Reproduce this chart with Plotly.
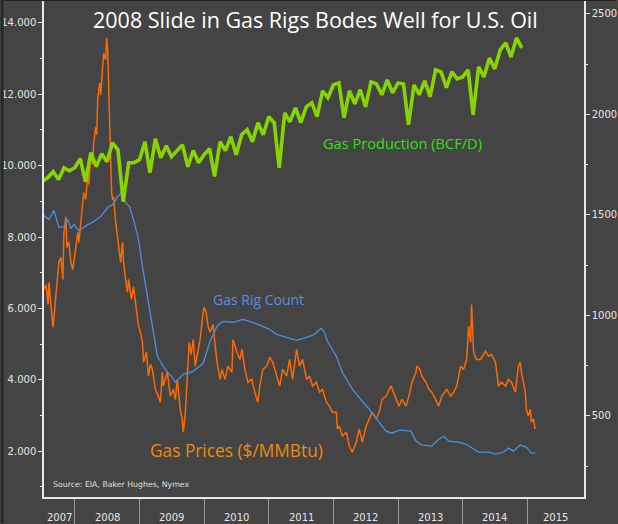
import plotly.graph_objects as go
import pandas as pd

# ---------------- data ----------------
# Henry Hub gas price, $/MMBtu (left axis); time in decimal years
price_t = [2007.523, 2007.554, 2007.585, 2007.600, 2007.631, 2007.662, 2007.677, 2007.708, 2007.738, 2007.754,
           2007.785, 2007.815, 2007.831, 2007.862, 2007.877, 2007.908, 2007.938, 2007.969, 2007.985, 2008.015,
           2008.046, 2008.062, 2008.092, 2008.123, 2008.138, 2008.169, 2008.200, 2008.215, 2008.246, 2008.277,
           2008.292, 2008.323, 2008.338, 2008.354, 2008.385, 2008.400, 2008.431, 2008.446, 2008.477, 2008.492,
           2008.508, 2008.523, 2008.538, 2008.554, 2008.569, 2008.585, 2008.600, 2008.631, 2008.662, 2008.677,
           2008.708, 2008.738, 2008.754, 2008.785, 2008.815, 2008.831, 2008.877, 2008.908, 2008.954, 2008.985,
           2009.015, 2009.046, 2009.062, 2009.108, 2009.138, 2009.169, 2009.200, 2009.246, 2009.292, 2009.323,
           2009.354, 2009.369, 2009.431, 2009.446, 2009.477, 2009.523, 2009.554, 2009.585, 2009.600, 2009.631,
           2009.662, 2009.677, 2009.708, 2009.738, 2009.769, 2009.800, 2009.831, 2009.862, 2009.892, 2009.938,
           2009.985, 2010.000, 2010.031, 2010.062, 2010.092, 2010.138, 2010.169, 2010.200, 2010.246, 2010.277,
           2010.323, 2010.369, 2010.431, 2010.446, 2010.508, 2010.554, 2010.585, 2010.631, 2010.677, 2010.738,
           2010.785, 2010.831, 2010.862, 2010.908, 2010.969, 2011.015, 2011.062, 2011.123, 2011.169, 2011.215,
           2011.277, 2011.323, 2011.369, 2011.431, 2011.477, 2011.523, 2011.585, 2011.631, 2011.677, 2011.738,
           2011.785, 2011.831, 2011.892, 2011.938, 2011.985, 2012.046, 2012.062, 2012.092, 2012.138, 2012.200,
           2012.246, 2012.292, 2012.354, 2012.400, 2012.446, 2012.508, 2012.554, 2012.600, 2012.662, 2012.708,
           2012.754, 2012.815, 2012.892, 2012.938, 2013.015, 2013.062, 2013.123, 2013.169, 2013.215, 2013.277,
           2013.292, 2013.338, 2013.369, 2013.431, 2013.477, 2013.523, 2013.585, 2013.631, 2013.677, 2013.754,
           2013.815, 2013.862, 2013.908, 2013.969, 2014.015, 2014.062, 2014.092, 2014.123, 2014.138, 2014.169,
           2014.215, 2014.277, 2014.354, 2014.400, 2014.446, 2014.508, 2014.554, 2014.600, 2014.662, 2014.708,
           2014.754, 2014.815, 2014.862, 2014.892, 2014.908, 2014.969, 2014.985, 2015.015, 2015.046, 2015.062,
           2015.092, 2015.123]
price_v = [6.53, 6.67, 6.11, 6.73, 6.06, 5.47, 5.75, 6.39, 6.87, 7.31,
           7.43, 6.81, 8.13, 8.57, 7.71, 7.85, 7.29, 7.09, 7.31, 7.79,
           8.13, 7.85, 8.41, 8.77, 9.24, 9.05, 9.80, 9.47, 10.25, 10.03,
           10.64, 11.09, 10.87, 11.85, 12.32, 11.99, 12.77, 13.16, 12.96, 13.58,
           13.24, 12.13, 11.01, 10.17, 9.24, 9.05, 9.13, 8.43, 8.01, 7.79,
           7.29, 7.85, 7.29, 6.81, 6.45, 6.81, 6.25, 6.61, 5.97, 5.50,
           5.33, 5.05, 4.49, 4.77, 4.10, 4.43, 4.29, 3.73, 3.54, 3.37,
           4.21, 3.82, 4.21, 3.93, 3.54, 3.73, 3.45, 4.01, 3.65, 3.17,
           2.89, 2.53, 3.03, 4.01, 5.05, 4.71, 5.13, 4.38, 4.66, 5.13,
           5.89, 6.03, 5.89, 5.50, 5.33, 5.55, 4.99, 4.49, 4.01, 4.29,
           4.01, 4.38, 4.21, 5.13, 4.77, 4.57, 4.85, 4.29, 3.93, 4.01,
           3.65, 3.37, 3.82, 4.29, 4.38, 4.63, 4.49, 4.10, 3.82, 4.29,
           4.10, 4.57, 4.01, 4.85, 4.38, 4.57, 4.01, 4.10, 3.82, 3.93,
           3.65, 3.73, 3.37, 3.26, 3.09, 3.09, 2.62, 2.70, 2.42, 2.53,
           2.14, 1.97, 2.25, 2.62, 2.25, 2.70, 2.90, 3.09, 2.90, 3.09,
           3.45, 3.54, 3.82, 3.59, 3.26, 3.45, 3.26, 3.54, 3.93, 4.21,
           4.38, 4.29, 4.10, 3.93, 3.73, 3.65, 3.45, 3.26, 3.54, 3.73,
           3.54, 3.65, 3.82, 4.38, 4.29, 4.57, 5.50, 5.05, 6.11, 4.77,
           4.57, 4.57, 4.80, 4.66, 4.71, 4.49, 3.82, 3.93, 3.82, 4.01,
           3.93, 3.65, 4.38, 4.49, 4.21, 3.65, 3.17, 2.98, 3.17, 2.81,
           2.90, 2.62]

# Baker Hughes gas rig count (right axis)
rig_t = [2007.523, 2007.600, 2007.677, 2007.754, 2007.831, 2007.892, 2007.938, 2007.985,
         2008.062, 2008.123, 2008.200, 2008.292, 2008.400, 2008.508, 2008.585, 2008.662, 2008.723, 2008.785,
         2008.846, 2008.908, 2008.985,
         2009.046, 2009.123, 2009.215, 2009.277, 2009.369, 2009.446, 2009.508, 2009.554, 2009.677, 2009.831, 2009.985,
         2010.092, 2010.200, 2010.292, 2010.446, 2010.600, 2010.754, 2010.908,
         2011.015, 2011.123, 2011.277, 2011.431, 2011.585, 2011.708, 2011.815, 2011.862, 2011.908,
         2012.046, 2012.138, 2012.292, 2012.446, 2012.554, 2012.708, 2012.815, 2012.908,
         2013.015, 2013.200, 2013.277, 2013.369, 2013.523, 2013.631, 2013.708, 2013.785, 2013.938,
         2014.046, 2014.123, 2014.246, 2014.400, 2014.508, 2014.631, 2014.708, 2014.785, 2014.892, 2014.985,
         2015.062, 2015.123]
rig_v = [1497, 1477, 1522, 1437, 1442, 1477, 1432, 1452,
         1422, 1437, 1452, 1467, 1492, 1537, 1551, 1591, 1611, 1561, 1542, 1477, 1378,
         1244, 1095, 916, 797, 747, 712, 692, 668, 707, 722, 762,
         871, 946, 970, 966, 980, 966, 946,
         931, 906, 891, 876, 891, 906, 936, 916, 871,
         797, 717, 633, 573, 533, 469, 424, 414,
         429, 424, 375, 355, 350, 384, 399, 375, 370,
         360, 345, 320, 320, 310, 320, 340, 325, 355, 345,
         315, 315]

# Monthly gas production (right axis), June 2007 .. November 2014
prod_start = "2007-06-30"
prod_v = [1666, 1686, 1715, 1676, 1735, 1720, 1735,
          1780, 1666, 1810, 1740, 1805, 1765, 1859, 1825, 1566, 1760, 1760, 1775,
          1864, 1710, 1879, 1785, 1844, 1790, 1820, 1849, 1740, 1820, 1760, 1800,
          1830, 1691, 1864, 1820, 1889, 1800, 1899, 1924, 1864, 1959, 1899, 1989,
          1959, 1735, 2008, 1964, 2033, 1959, 2038, 2058, 1989, 2118, 2083, 2147,
          2157, 1984, 2118, 2053, 2123, 2038, 2162, 2152, 2098, 2172, 2108, 2157,
          2152, 1949, 2147, 2098, 2167, 2088, 2222, 2212, 2133, 2212, 2177, 2187,
          2222, 1998, 2237, 2187, 2281, 2227, 2321, 2356, 2286, 2381, 2331]

year_labels = ["2007", "2008", "2009", "2010", "2011", "2012", "2013", "2014", "2015"]

# ---------------- build ----------------
month_ends = pd.date_range(prod_start, periods=len(prod_v), freq="ME")
prod_t = [d.year + d.dayofyear / (366 if d.is_leap_year else 365) for d in month_ends]

X_RANGE = [2007.523, 2015.877]
BG = "#444444"

fig = go.Figure()
fig.add_trace(go.Scatter(x=rig_t, y=rig_v, yaxis="y2", mode="lines",
                         line=dict(color="#4a90e2", width=1.3), hoverinfo="skip"))
fig.add_trace(go.Scatter(x=prod_t, y=prod_v, yaxis="y2", mode="lines",
                         line=dict(color="#88d400", width=3.6), hoverinfo="skip"))
fig.add_trace(go.Scatter(x=price_t, y=price_v, yaxis="y", mode="lines",
                         line=dict(color="#ff6a00", width=1.5), hoverinfo="skip"))

year_vals = [int(y) for y in year_labels]
annotations = []
for lab in year_labels:
    y0 = max(int(lab), X_RANGE[0])
    y1 = min(int(lab) + 1, X_RANGE[1])
    annotations.append(dict(x=(y0 + y1) / 2, y=-0.027, xref="x", yref="paper",
                            xanchor="center", yanchor="top",
                            text=lab, showarrow=False,
                            font=dict(family="DejaVu Sans", size=10, color="#e6e6e6")))

annotations += [
    dict(x=0.503, y=0.963, xref="paper", yref="paper", xanchor="center", yanchor="middle",
         text="2008 Slide in Gas Rigs Bodes Well for U.S. Oil",
         showarrow=False, font=dict(family="Open Sans", size=21.5, color="#ffffff")),
    dict(x=0.663, y=0.714, xref="paper", yref="paper", xanchor="center", yanchor="middle",
         text="Gas Production (BCF/D)",
         showarrow=False, font=dict(family="Open Sans", size=14.6, color="#33e010")),
    dict(x=0.398, y=0.398, xref="paper", yref="paper", xanchor="center", yanchor="middle",
         text="Gas Rig Count",
         showarrow=False, font=dict(family="Open Sans", size=14, color="#5b8ee0")),
    dict(x=0.356, y=0.093, xref="paper", yref="paper", xanchor="center", yanchor="middle",
         text="Gas Prices ($/MMBtu)",
         showarrow=False, font=dict(family="Open Sans", size=17.3, color="#ee8a0a")),
    dict(x=0.013, y=0.026, xref="paper", yref="paper", xanchor="left", yanchor="middle",
         text="Source: EIA, Baker Hughes, Nymex",
         showarrow=False, font=dict(family="DejaVu Sans", size=7.8, color="#e0e0e0")),
]

fig.update_layout(
    width=618, height=524,
    margin=dict(l=43, r=32, t=1, b=26),
    paper_bgcolor=BG, plot_bgcolor=BG,
    showlegend=False,
    annotations=annotations,
    xaxis=dict(range=X_RANGE, tickmode="array", tickvals=year_vals[1:], showticklabels=False,
               ticks="outside", ticklen=26, tickcolor="#9a9a9a", tickwidth=1,
               showgrid=False, zeroline=False, showline=True, linecolor="#e8e8e8", linewidth=1.5),
    yaxis=dict(range=[0.713, 14.615], tick0=0, dtick=2, tickformat=".3f",
               ticks="outside", ticklen=4, tickcolor="#e8e8e8",
               minor=dict(dtick=1, tick0=0, ticks="outside", ticklen=2, tickcolor="#e8e8e8"),
               showgrid=False, zeroline=False, showline=True, linecolor="#e8e8e8", linewidth=1.5,
               tickfont=dict(family="DejaVu Sans", size=10, color="#e6e6e6")),
    yaxis2=dict(range=[96.5, 2564.6], overlaying="y", side="right", tick0=0, dtick=500,
                ticks="outside", ticklen=4, tickcolor="#e8e8e8",
                minor=dict(dtick=250, tick0=0, ticks="outside", ticklen=2, tickcolor="#e8e8e8"),
                showgrid=False, zeroline=False, showline=True, linecolor="#e8e8e8", linewidth=1.5,
                tickfont=dict(family="DejaVu Sans", size=10, color="#e6e6e6")),
    shapes=[
        dict(type="line", xref="paper", yref="paper", x0=-43 / 543, x1=575 / 543, y0=498 / 497, y1=498 / 497,
             line=dict(color="#222222", width=2)),
        dict(type="line", xref="paper", yref="paper", x0=-42 / 543, x1=-42 / 543, y0=-26 / 497, y1=498 / 497,
             line=dict(color="#2a2a2a", width=3)),
    ],
)

fig.write_html("out.html", config={"displayModeBar": False},
               post_script="document.body.style.margin='0';document.body.style.overflow='hidden';")
